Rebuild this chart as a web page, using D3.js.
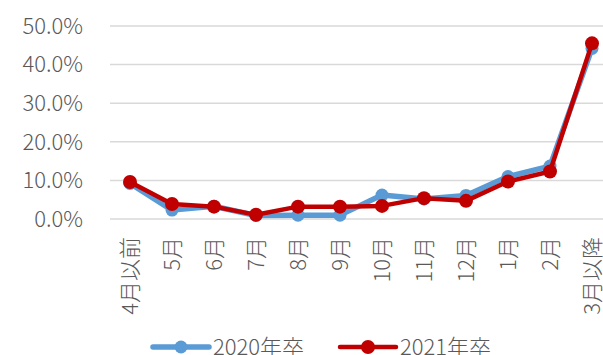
<!DOCTYPE html>
<html><head><meta charset="utf-8">
<script src="https://cdn.jsdelivr.net/npm/d3@7"></script>
<style>body{margin:0;background:#fff}svg{display:block}text{font-family:"Noto Sans CJK JP","Noto Sans",sans-serif;font-weight:300;fill:#595959}</style>
</head><body><svg id="c" width="603" height="355"></svg>
<script>
const categories = ["4月以前","5月","6月","7月","8月","9月","10月","11月","12月","1月","2月","3月以降"];
const series2020 = [9.2, 2.3, 3.3, 0.9, 1.0, 1.0, 6.2, 5.2, 6.1, 11.0, 13.7, 44.2];
const series2021 = [9.6, 3.9, 3.2, 1.1, 3.2, 3.2, 3.4, 5.4, 4.7, 9.7, 12.3, 45.5];
const yTicks = [0, 10, 20, 30, 40, 50];
const seriesNames = ["2020年卒", "2021年卒"];
const colors = ["#5B9BD5", "#C00000"];

const svg = d3.select("#c");
const x = d3.scaleBand().domain(categories).range([109, 613]);
const y = d3.scaleLinear().domain([0, 50]).range([219, 26]);

// gridlines
svg.append("g").selectAll("line").data(yTicks).join("line")
  .attr("x1", 110).attr("x2", 603)
  .attr("y1", d => y(d)).attr("y2", d => y(d))
  .attr("stroke", "#d9d9d9").attr("stroke-width", 1.5);

// y axis labels
svg.append("g").selectAll("text").data(yTicks).join("text")
  .attr("x", 83).attr("y", d => y(d)).attr("dy", "0.35em")
  .attr("text-anchor", "end").attr("font-size", 22)
  .text(d => d.toFixed(1) + "%");

// x axis labels, rotated
svg.append("g").selectAll("text").data(categories).join("text")
  .attr("transform", d => `translate(${x(d) + x.bandwidth() / 2},237) rotate(-90)`)
  .attr("text-anchor", "end").attr("dy", "0.36em").attr("font-size", 22)
  .text(d => d);

const cx = d => x(d) + x.bandwidth() / 2;
const line = d3.line().x((d, i) => cx(categories[i])).y(d => y(d));

[[series2020, 5.5, 6.5], [series2021, 4.5, 7]].forEach(([vals, w, r], k) => {
  const g = svg.append("g");
  g.append("path").datum(vals).attr("d", line)
    .attr("fill", "none").attr("stroke", colors[k]).attr("stroke-width", w)
    .attr("stroke-linejoin", "round");
  g.selectAll("circle").data(vals).join("circle")
    .attr("cx", (d, i) => cx(categories[i])).attr("cy", d => y(d))
    .attr("r", r).attr("fill", colors[k]);
});

// legend
const legendX = [153, 340];
seriesNames.forEach((name, k) => {
  const g = svg.append("g").attr("transform", `translate(${legendX[k]},347)`);
  g.append("line").attr("x1", 0).attr("x2", 56).attr("stroke", colors[k])
    .attr("stroke-width", k ? 4.5 : 5.5).attr("stroke-linecap", "round");
  g.append("circle").attr("cx", 28).attr("r", k ? 7 : 6.5).attr("fill", colors[k]);
  g.append("text").attr("x", 60).attr("dy", "0.35em").attr("font-size", 22).text(name);
});
</script></body></html>
